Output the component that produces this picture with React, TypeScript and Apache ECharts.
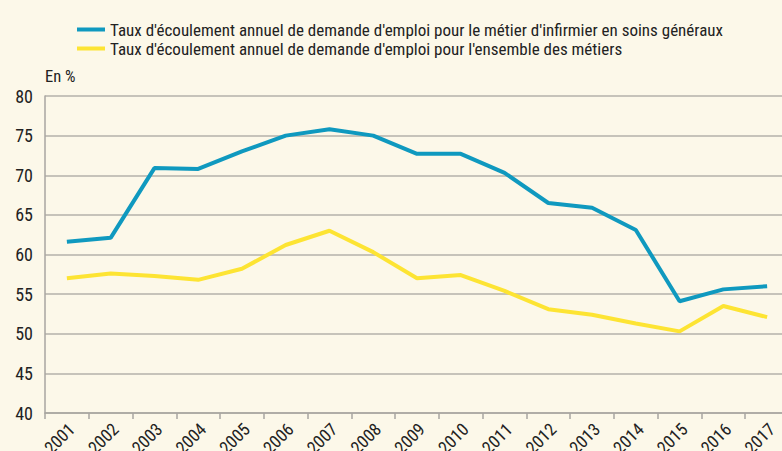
import React, { useEffect, useRef } from "react";
import * as echarts from "echarts";

const years = ["2001","2002","2003","2004","2005","2006","2007","2008","2009","2010","2011","2012","2013","2014","2015","2016","2017"];
const infirmier = [61.6, 62.1, 70.9, 70.8, 73.0, 75.0, 75.8, 75.0, 72.7, 72.7, 70.3, 66.5, 65.9, 63.1, 54.1, 55.6, 56.0];
const ensemble = [57.0, 57.6, 57.3, 56.8, 58.2, 61.2, 63.0, 60.3, 57.0, 57.4, 55.4, 53.1, 52.4, 51.3, 50.3, 53.5, 52.1];
const seriesNames = [
  "Taux d'écoulement annuel de demande d'emploi pour le métier d'infirmier en soins généraux",
  "Taux d'écoulement annuel de demande d'emploi pour l'ensemble des métiers",
];
const yTicks = { min: 40, max: 80, interval: 5 };
const unitLabel = "En %";

const FONT = "'Liberation Sans Narrow', 'Roboto Condensed', 'Liberation Sans', sans-serif";

export default function App() {
  const ref = useRef<HTMLDivElement>(null);
  useEffect(() => {
    if (!ref.current) return;
    const chart = echarts.init(ref.current, null, { renderer: "svg" });
    chart.setOption({
      animation: false,
      backgroundColor: "#fcf8e9",
      textStyle: { fontFamily: FONT },
      legend: {
        orient: "vertical",
        left: 72,
        top: 15,
        itemWidth: 28,
        itemHeight: 4,
        itemGap: 0,
        icon: "rect",
        textStyle: { fontFamily: FONT, fontSize: 17, lineHeight: 19, color: "#222" },
        data: seriesNames,
      },
      graphic: [
        { type: "text", left: 45, top: 68, style: { text: unitLabel, font: `16.5px ${FONT}`, fill: "#222" } },
      ],
      grid: { left: 45, right: -7, top: 96, bottom: 38, containLabel: false, outerBoundsMode: "none" },
      xAxis: {
        type: "category",
        data: years,
        boundaryGap: true,
        axisLine: { lineStyle: { color: "#a8a6a0", width: 1.5 } },
        axisTick: { show: true, length: 6, lineStyle: { color: "#a8a6a0", width: 1.5 } },
        axisLabel: {
          rotate: 45,
          color: "#222",
          fontSize: 17.5,
          fontFamily: FONT,
          margin: 0,
          interval: 0,
          hideOverlap: false,
          align: "right",
          verticalAlign: "top",
          padding: [4, 6, 0, 0],
        },
      },
      yAxis: {
        type: "value",
        min: yTicks.min,
        max: yTicks.max,
        interval: yTicks.interval,
        axisLine: { show: true, lineStyle: { color: "#a8a6a0", width: 1.5 } },
        axisTick: { show: false },
        axisLabel: { color: "#222", fontSize: 18, fontFamily: FONT, margin: 12 },
        splitLine: { lineStyle: { color: "#b5b2aa", width: 1.5 } },
      },
      series: [
        {
          name: seriesNames[0],
          type: "line",
          data: infirmier,
          symbol: "none",
          lineStyle: { color: "#0f99bf", width: 4 },
          itemStyle: { color: "#0f99bf" },
        },
        {
          name: seriesNames[1],
          type: "line",
          data: ensemble,
          symbol: "none",
          lineStyle: { color: "#fde433", width: 4 },
          itemStyle: { color: "#fde433" },
        },
      ],
    });
    return () => chart.dispose();
  }, []);
  return <div ref={ref} style={{ width: 782, height: 451, position: "absolute", left: 0, top: 0 }} />;
}
